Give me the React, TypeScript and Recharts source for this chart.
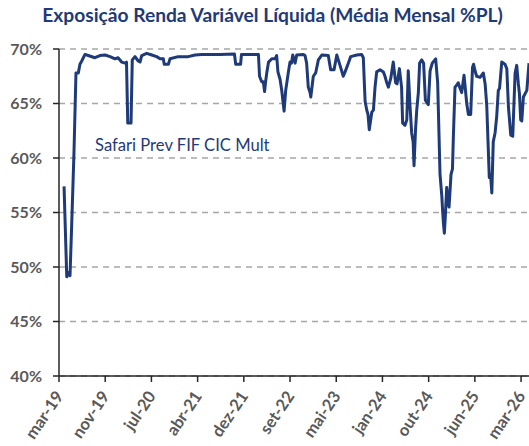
import { CartesianGrid, Line, LineChart, XAxis, YAxis } from "recharts";

// dias desde 01/03/2019
const dias = [
  28, 43, 53, 61, 70, 83, 94, 107, 116, 126, 144, 162, 199, 227, 255, 283, 310, 327, 347, 366,
  374, 381, 399, 406, 421, 439, 449, 458, 486, 514, 541, 560, 578, 583, 606, 615, 661, 716, 754, 791,
  892, 972, 979, 1006, 1011, 1105, 1111, 1123, 1132, 1139, 1144, 1151, 1161, 1179, 1197, 1206, 1213, 1225, 1234, 1247,
  1256, 1271, 1280, 1288, 1295, 1308, 1317, 1354, 1363, 1372, 1381, 1391, 1395, 1409, 1422, 1437, 1456, 1492, 1505, 1524,
  1539, 1557, 1575, 1585, 1603, 1616, 1650, 1677, 1686, 1696, 1705, 1712, 1719, 1733, 1742, 1751, 1760, 1779, 1797, 1806,
  1816, 1825, 1838, 1852, 1865, 1873, 1886, 1898, 1904, 1917, 1927, 1935, 1945, 1954, 1962, 1967, 1975, 1982, 1991, 1998,
  2010, 2020, 2030, 2046, 2056, 2068, 2087, 2098, 2111, 2121, 2126, 2130, 2135, 2140, 2148, 2155, 2161, 2172, 2180, 2185,
  2194, 2204, 2212, 2222, 2231, 2244, 2259, 2268, 2281, 2291, 2297, 2305, 2314, 2333, 2351, 2361, 2370, 2377, 2384, 2391,
  2398, 2406, 2416, 2425, 2434, 2441, 2453, 2471, 2481, 2490, 2503, 2514, 2527, 2536, 2545, 2551, 2558, 2564, 2573, 2592,
  2604,
];

const exposicao = [
  57.4, 49.1, 49.5, 49.2, 53.7, 60.5, 67.8, 67.8, 68.6, 68.9, 69.5, 69.4, 69.2, 69.4, 69.45, 69.3, 69.1, 69.2, 68.8, 68.7,
  68.8, 63.2, 63.2, 69.0, 69.3, 68.9, 68.8, 69.4, 69.6, 69.45, 69.3, 69.1, 69.1, 68.6, 68.6, 69.1, 69.3, 69.3, 69.45, 69.5,
  69.5, 69.55, 68.6, 68.6, 69.5, 69.5, 67.5, 67.0, 67.0, 66.1, 66.9, 67.8, 68.8, 69.1, 69.1, 69.4, 67.9, 67.2, 66.2, 64.3,
  66.2, 67.9, 68.8, 68.7, 69.45, 68.7, 69.45, 69.5, 69.4, 68.7, 66.5, 66.0, 65.6, 67.5, 67.8, 69.0, 69.45, 69.4, 68.1, 68.1,
  69.45, 68.5, 67.5, 67.9, 68.7, 69.3, 69.45, 69.5, 69.2, 65.2, 64.4, 64.0, 62.6, 64.2, 64.4, 66.5, 67.9, 68.1, 67.9, 67.5,
  66.9, 66.5, 67.3, 68.8, 66.9, 66.8, 68.2, 66.5, 63.2, 63.0, 63.5, 68.0, 64.7, 62.3, 61.5, 59.3, 62.5, 64.4, 66.0, 68.7,
  69.0, 68.7, 65.3, 64.9, 68.0, 68.7, 69.1, 66.9, 58.5, 56.5, 55.0, 54.0, 53.1, 54.5, 57.3, 56.0, 55.5, 58.5, 59.0, 62.0,
  66.5, 66.7, 66.9, 66.4, 66.0, 67.6, 65.0, 64.0, 64.0, 68.3, 68.6, 68.0, 67.5, 67.4, 67.8, 66.8, 64.8, 61.5, 58.2, 58.5,
  56.8, 61.5, 62.3, 63.8, 66.2, 66.4, 68.8, 68.6, 68.2, 64.7, 62.1, 62.0, 67.8, 68.5, 66.8, 65.9, 63.5, 63.4, 65.6, 66.2,
  68.7,
];

const rotulosX = ["mar-19", "nov-19", "jul-20", "abr-21", "dez-21", "set-22", "mai-23", "jan-24", "out-24", "jun-25", "mar-26"];
const ticksY = [40, 45, 50, 55, 60, 65, 70];
const nomeSerie = "Safari Prev FIF CIC Mult";
const titulo = "Exposição Renda Variável Líquida (Média Mensal %PL)";

const data = dias.map((d, i) => ({ dia: d, valor: exposicao[i] }));
const ticksX = rotulosX.map((_, i) => i * 256);

const AZUL = "#1f3a78";
const CINZA = "#595959";
const FONTE = "Lato, 'Open Sans', sans-serif";

function XTick(props: any) {
  const { x, y, payload } = props;
  const idx = ticksX.indexOf(payload.value);
  const ax = x + 5;
  const ay = y + 14;
  return (
    <text
      x={ax}
      y={ay}
      transform={`rotate(-56 ${ax} ${ay})`}
      textAnchor="end"
      fill={CINZA}
      fontSize={16.5}
      fontWeight={700}
      fontFamily={FONTE}
    >
      {rotulosX[idx] ?? ""}
    </text>
  );
}

export default function App() {
  return (
    <div style={{ position: "absolute", left: 0, top: 0, width: 529, height: 446, background: "#fff", overflow: "hidden" }}>
      <div
        style={{
          position: "absolute",
          left: 0,
          width: 545,
          top: 3,
          textAlign: "center",
          fontFamily: FONTE,
          fontWeight: 700,
          fontSize: 19.2,
          color: AZUL,
          whiteSpace: "nowrap",
        }}
      >
        {titulo}
      </div>
      <LineChart width={529} height={446} data={data} margin={{ top: 49, right: 0, left: 0, bottom: 0 }}>
        <CartesianGrid horizontal vertical={false} stroke="#a6a6a6" strokeWidth={1.5} strokeDasharray="6 5" />
        <XAxis
          type="number"
          dataKey="dia"
          domain={[0, 2604]}
          ticks={ticksX}
          interval={0}
          height={70}
          tick={<XTick />}
          tickSize={6}
          tickMargin={0}
          axisLine={{ stroke: "#262626", strokeWidth: 1.5 }}
          tickLine={{ stroke: "#262626", strokeWidth: 1.5 }}
          allowDataOverflow
        />
        <YAxis
          type="number"
          domain={[40, 70]}
          ticks={ticksY}
          interval={0}
          width={59}
          tickSize={6}
          tickMargin={11}
          tickFormatter={(v) => `${v}%`}
          tick={{ fill: CINZA, fontSize: 16, fontWeight: 700, fontFamily: FONTE }}
          axisLine={{ stroke: "#262626", strokeWidth: 1.5 }}
          tickLine={{ stroke: "#262626", strokeWidth: 1.5 }}
        />
        <Line
          type="linear"
          dataKey="valor"
          name={nomeSerie}
          stroke={AZUL}
          strokeWidth={3}
          dot={false}
          isAnimationActive={false}
          strokeLinejoin="round"
        />
      </LineChart>
      <div
        style={{
          position: "absolute",
          left: 95,
          top: 135,
          fontFamily: FONTE,
          fontSize: 16.6,
          color: AZUL,
          whiteSpace: "nowrap",
        }}
      >
        {nomeSerie}
      </div>
    </div>
  );
}
